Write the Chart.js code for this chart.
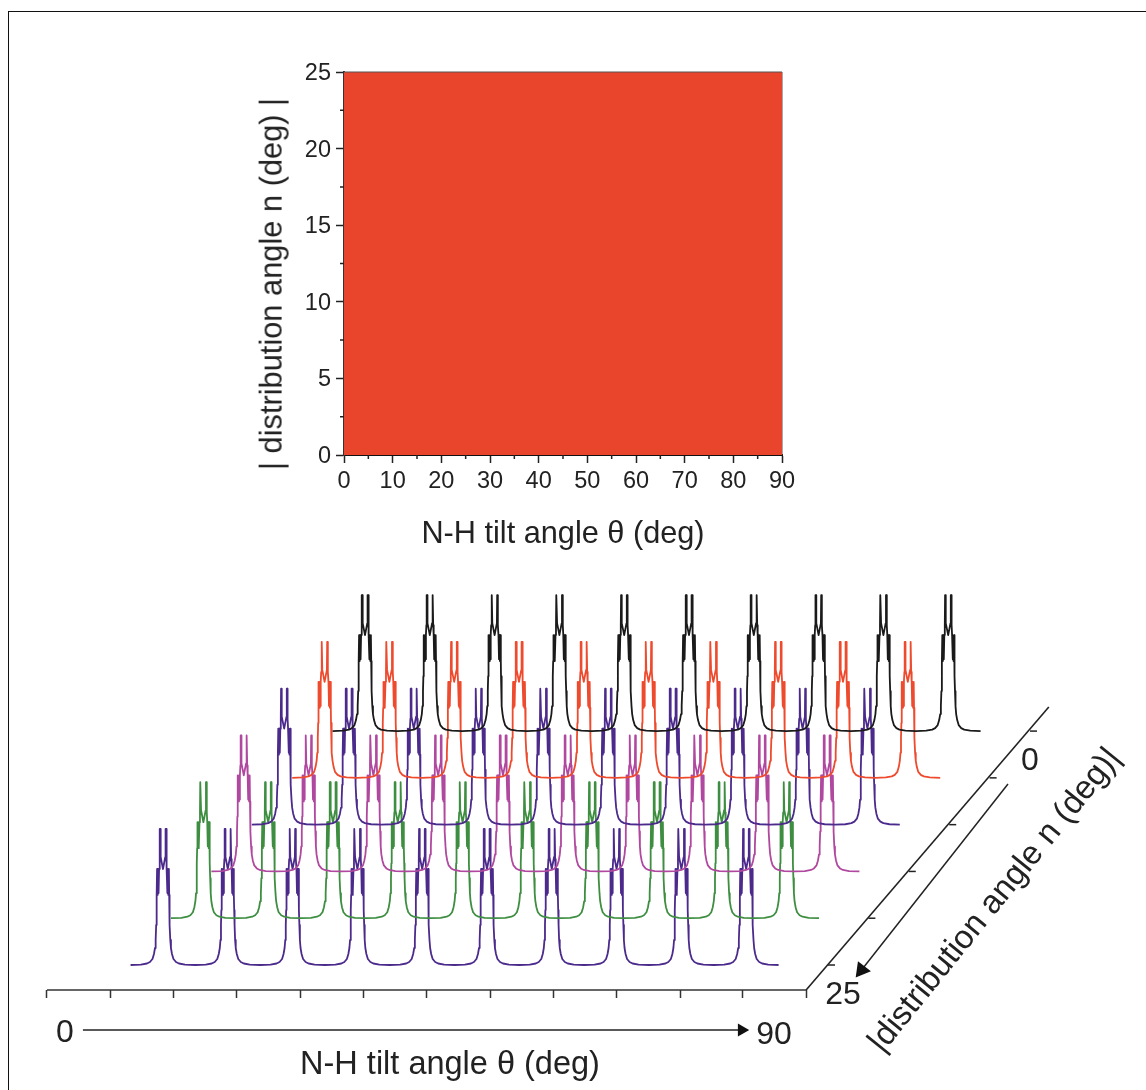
<!DOCTYPE html>
<html><head><meta charset="utf-8">
<style>
html,body{margin:0;padding:0;background:#fff;overflow:hidden;width:1146px;height:1090px;}
#frame{position:absolute;left:8px;top:11px;width:1138px;height:1079px;border-left:1.5px solid #111;border-top:1.5px solid #111;box-sizing:border-box;}
canvas{position:absolute;left:0;display:block;}
.t{position:absolute;font-family:"Liberation Sans",Arial,sans-serif;color:#222;white-space:nowrap;transform:translate(-50%,-50%);line-height:1;}
</style>
<script src="https://cdn.jsdelivr.net/npm/chart.js@4"></script>
</head><body>
<div id="frame"></div>
<canvas id="map" width="1146" height="560" style="top:0"></canvas>
<canvas id="fall" width="1146" height="530" style="top:560px"></canvas>
<div class="t" style="left:272px;top:284px;font-size:30.8px;transform:translate(-50%,-50%) rotate(-90deg)">| distribution angle n (deg) |</div>
<div class="t" style="left:65px;top:1031px;font-size:32px">0</div>
<div class="t" style="left:774px;top:1033px;font-size:32px">90</div>
<div class="t" style="left:450px;top:1063px;font-size:32.5px">N-H tilt angle θ (deg)</div>
<div class="t" style="left:843px;top:993px;font-size:32px">25</div>
<div class="t" style="left:1030px;top:759px;font-size:32px">0</div>
<div class="t" style="left:993px;top:899px;font-size:33px;transform:translate(-50%,-50%) rotate(-51deg)">|distribution angle n (deg)|</div>
<script>
// ---- data ----
const thetaRange = [0, 90];
const spreadRange = [0, 25];
const thetaTicks = [0, 10, 20, 30, 40, 50, 60, 70, 80, 90];
const spreadTicks = [0, 5, 10, 15, 20, 25];
const mapColor = '#E8452C';

const peakThetas = [0, 10, 20, 30, 40, 50, 60, 70, 80, 90];
const spreadAngles = [0, 5, 10, 15, 20, 25];
const seriesColors = ['#1A1A1A', '#EE4B2E', '#4B2A8C', '#B0489F', '#3E8E41', '#4B2A8C'];
// half of one line shape: offset from its centre (deg) and height (% of the tallest point)
const shapeOffset = [-5, -3.40, -2.47, -2.01, -1.62, -1.39, -1.23, -1.13, -1.05, -0.99, -0.96, -0.91, -0.82, -0.74, -0.68, -0.60, -0.525, -0.48, -0.40, -0.355, 0];
const shapeHeight = [0, 0.3, 1.1, 2.2, 4.4, 8.1, 12.5, 18.4, 29.4, 40.4, 51.5, 70.6, 51.5, 70.6, 52.9, 70.6, 77.9, 100, 100, 79.4, 70.6];
// oblique projection of the depth axis onto the page
const depthShiftX = 1.247;
const depthShiftY = 6.88;
// drawn axis furniture, in the same units
const frontTicks = [-17.9, -8.13, 1.64, 11.4, 21.2, 30.9, 40.7, 50.5, 60.2, 70, 79.8, 89.5, 99.25];
const frontAxisY = -18.38;
const diagLineX = [99.25, 136.7], diagLineY = [-18.38, 189.7];
const diagTickX = 133.8, diagTickLen = 1.08;
const tiltArrowX = [-12.35, 89.3], tiltArrowY = -47.8;
const depthArrowX = [130.4, 107.8], depthArrowY = [133.1, -3.7];

const sans = '"Liberation Sans", Arial, sans-serif';
const ink = '#222';

// ---- top map ----
const minorTicks = {
  id: 'minorTicks',
  afterDatasetsDraw(c) {
    const x = c.scales.x, y = c.scales.y, g = c.ctx;
    g.save(); g.strokeStyle = ink; g.lineWidth = 1.5; g.beginPath();
    for (let v = 5; v < 90; v += 10) { const p = x.getPixelForValue(v); g.moveTo(p, x.top); g.lineTo(p, x.top + 4); }
    for (let v = 2.5; v < 25; v += 5) { const p = y.getPixelForValue(v); g.moveTo(y.right, p); g.lineTo(y.right - 4, p); }
    g.stroke(); g.restore();
  }
};
new Chart(document.getElementById('map'), {
  type: 'scatter',
  data: { datasets: [
    { data: thetaRange.map(v => ({ x: v, y: spreadRange[1] })), parsing: false, showLine: true, fill: 'origin',
      backgroundColor: mapColor, borderColor: '#555', borderWidth: 1, pointRadius: 0, tension: 0, clip: false },
    { data: spreadRange.map(v => ({ x: thetaRange[1], y: v })), parsing: false, showLine: true, fill: false,
      borderColor: '#555', borderWidth: 1, pointRadius: 0, tension: 0, clip: false }
  ] },
  options: {
    responsive: false, animation: false, events: [],
    layout: { autoPadding: false, padding: { left: 244, right: 364, top: 72, bottom: 7 } },
    plugins: { legend: { display: false }, tooltip: { enabled: false }, title: { display: false } },
    scales: {
      x: {
        type: 'linear', min: thetaRange[0], max: thetaRange[1], z: 1,
        afterFit(s) { s.height = 98; },
        afterBuildTicks(s) { s.ticks = thetaTicks.map(v => ({ value: v })); },
        border: { color: '#111', width: 2 },
        grid: { drawOnChartArea: false, tickLength: 8, tickColor: ink, tickWidth: 1.5 },
        ticks: { color: ink, font: { family: sans, size: 23.5 }, padding: 4, maxRotation: 0, autoSkip: false },
        title: { display: true, text: 'N-H tilt angle θ (deg)', color: ink, font: { family: sans, size: 30.7 }, padding: { top: 0, bottom: 0 } }
      },
      y: {
        type: 'linear', min: spreadRange[0], max: spreadRange[1], z: 1,
        afterFit(s) { s.width = 100; },
        afterBuildTicks(s) { s.ticks = spreadTicks.map(v => ({ value: v })); },
        border: { color: '#333', width: 2 },
        grid: { drawOnChartArea: false, tickLength: 8, tickColor: ink, tickWidth: 1.5 },
        ticks: { color: ink, font: { family: sans, size: 23.5 }, padding: 5, autoSkip: false, labelOffset: 1.5 }
      }
    }
  },
  plugins: [minorTicks]
});

// ---- bottom waterfall ----
const shapeX = shapeOffset.concat(shapeOffset.slice(0, -1).reverse().map(v => -v));
const shapeY = shapeHeight.concat(shapeHeight.slice(0, -1).reverse());
const spectra = spreadAngles.map((n, i) => ({
  data: peakThetas.flatMap((t) => shapeX.map((dx, j) => ({
    x: t + dx + (25 - n) * depthShiftX,
    y: shapeY[j] + (25 - n) * depthShiftY
  }))),
  borderColor: seriesColors[i], borderWidth: 1.8, pointRadius: 0, tension: 0, parsing: false, clip: false,
  borderJoinStyle: 'round', fill: false
}));
const furniture = (data, extra) => Object.assign({ data, parsing: false, borderColor: ink, borderWidth: 1.5, pointRadius: 0, tension: 0, clip: false, fill: false }, extra || {});
const furnitureSets = [
  furniture([frontTicks[0], frontTicks[frontTicks.length - 1]].map(v => ({ x: v, y: frontAxisY })), { borderColor: '#333', borderWidth: 1.5 }),
  furniture(diagLineX.map((v, i) => ({ x: v, y: diagLineY[i] })), { borderWidth: 1.6 }),
  ...spreadAngles.map(n => furniture([
    { x: diagTickX - n * depthShiftX, y: (25 - n) * depthShiftY },
    { x: diagTickX - n * depthShiftX + diagTickLen, y: (25 - n) * depthShiftY }
  ], { borderWidth: 1.5 })),
  furniture(tiltArrowX.map(v => ({ x: v, y: tiltArrowY })), {
    pointRadius: [0, 6], pointStyle: 'triangle', pointRotation: 90, pointBackgroundColor: '#111', pointBorderColor: '#111', borderWidth: 1.5
  }),
  furniture(depthArrowX.map((v, i) => ({ x: v, y: depthArrowY[i] })), {
    pointRadius: [0, 8], pointStyle: 'triangle', pointRotation: 218, pointBackgroundColor: '#111', pointBorderColor: '#111', borderWidth: 1.5
  })
];
new Chart(document.getElementById('fall'), {
  type: 'scatter',
  data: { datasets: [...spectra, ...furnitureSets] },
  options: {
    responsive: false, animation: false, events: [], showLine: true,
    layout: { autoPadding: false, padding: 0 },
    plugins: { legend: { display: false }, tooltip: { enabled: false }, title: { display: false } },
    scales: {
      x: {
        type: 'linear', min: -25.15, max: 151.7, position: { y: frontAxisY },
        afterBuildTicks(s) { s.ticks = frontTicks.map(v => ({ value: v })); },
        border: { display: false },
        grid: { drawOnChartArea: false, tickLength: 8, tickColor: '#333', tickWidth: 1.5 },
        ticks: { display: false, autoSkip: false }
      },
      y: { type: 'linear', display: false, min: -91.91, max: 297.8 }
    }
  }
});
</script>
</body></html>
